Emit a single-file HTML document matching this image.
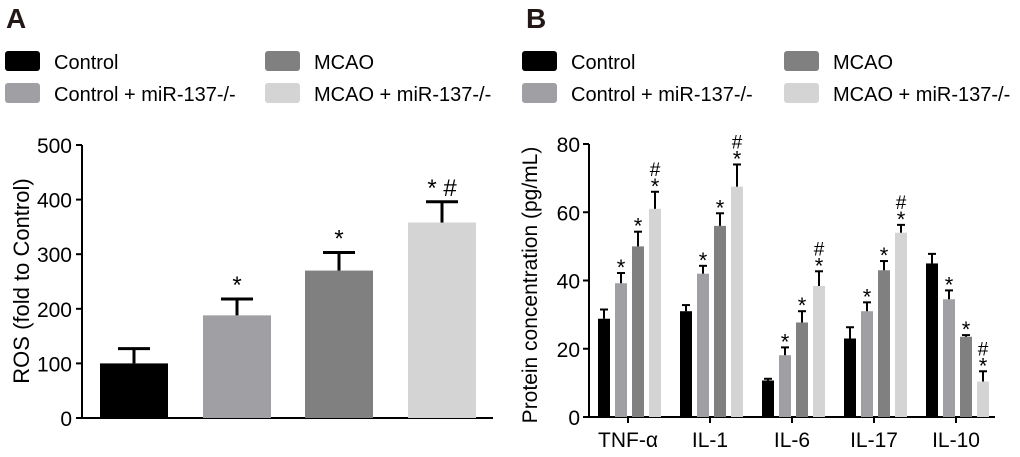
<!DOCTYPE html>
<html><head><meta charset="utf-8"><style>
body{margin:0;background:#fff;width:1020px;height:452px;overflow:hidden;font-family:"Liberation Sans",Arial,sans-serif}
svg text{font-family:"Liberation Sans",Arial,sans-serif}
</style></head><body>
<svg id="fig" width="1020" height="452" viewBox="0 0 1020 452" xmlns="http://www.w3.org/2000/svg">
<text x="6" y="28" font-size="28" font-weight="bold" fill="#231815">A</text>
<text x="526" y="28" font-size="28" font-weight="bold" fill="#231815">B</text>
<g id="legA"></g>
<g id="legB"></g>
<g id="chartA"></g>
<g id="chartB"></g>
</svg>
<script>
const groupNames = ["Control","Control + miR-137-/-","MCAO","MCAO + miR-137-/-"];
const colors = ["#000000","#a0a0a4","#808080","#d4d4d4"];
const rosValues = [100,188,270,358];
const rosErrors = [27,30,33,38];
const rosMarks = ["","*","*","* #"];
const rosTicks = [0,100,200,300,400,500];
const cytokines = ["TNF-α","IL-1","IL-6","IL-17","IL-10"];
const controlVals = [28.8,31,10.7,23,45];
const controlErr = [2.7,1.8,0.5,3.3,2.8];
const controlMiVals = [39.2,42,18.1,31,34.5];
const controlMiErr = [3,2.3,2.3,2.6,2.6];
const mcaoVals = [50,56,27.7,43,23.5];
const mcaoErr = [4.3,3.7,3.3,2.7,0.5];
const mcaoMiVals = [61,67.5,38.4,54,10.4];
const mcaoMiErr = [5,6.5,4.3,2.3,3];
const proteinTicks = [0,20,40,60,80];

const NS="http://www.w3.org/2000/svg";
function mk(parent,tag,attrs,txt){const e=document.createElementNS(NS,tag);for(const k in attrs)e.setAttribute(k,attrs[k]);if(txt!==undefined)e.textContent=txt;parent.appendChild(e);return e;}

function legend(g,x0,x1){
  const placement=[[x0,51],[x0,83],[x1,51],[x1,83]];
  for(let i=0;i<4;i++){
    const p=placement[i];
    const r=mk(g,'rect',{x:p[0],y:p[1],width:35,height:20,rx:3,fill:colors[i]});
    
    
    const t=mk(g,'text',{x:p[0]+49,y:p[1]+18,'font-size':20,fill:'#000'},groupNames[i]);
    
    
  }
}
legend(document.getElementById('legA'),5,265);
legend(document.getElementById('legB'),522,784);

// Chart A
(function(){
  const g=document.getElementById('chartA');
  const axX=82, y0=418, yTop=145, max=500;
  const y=v=>y0-(v/max)*(y0-yTop);
  const barX=[100,203,305,408], bw=68;
  mk(g,'line',{x1:axX,y1:yTop,x2:axX,y2:y0,stroke:'#000','stroke-width':2});
  mk(g,'line',{x1:76,y1:y0,x2:493,y2:y0,stroke:'#000','stroke-width':2});
  rosTicks.forEach(t=>{
    mk(g,'line',{x1:76,y1:y(t),x2:axX,y2:y(t),stroke:'#000','stroke-width':2});
    const tx=mk(g,'text',{x:72,y:y(t)+8,'font-size':21,'text-anchor':'end'},t);
    
    
  });
  const yt=mk(g,'text',{x:0,y:0,'font-size':22,'text-anchor':'middle',transform:'translate(29,281) rotate(-90)'},'ROS (fold to Control)');
  
  
  rosValues.forEach((v,i)=>{
    const cx=barX[i]+bw/2, top=y(v+rosErrors[i]);
    const b=mk(g,'rect',{x:barX[i],y:y(v),width:bw,height:y0-y(v),fill:colors[i]});
    
    
    mk(g,'line',{x1:cx,y1:y(v),x2:cx,y2:top,stroke:'#000','stroke-width':3});
    mk(g,'line',{x1:cx-16,y1:top,x2:cx+16,y2:top,stroke:'#000','stroke-width':3});
    if(rosMarks[i]){const m=mk(g,'text',{x:cx,y:top-6,'font-size':24,'text-anchor':'middle'},rosMarks[i]);
      
      }
  });
})();

// Chart B
(function(){
  const g=document.getElementById('chartB');
  const axX=589, y0=417, yTop=144, max=80;
  const y=v=>y0-(v/max)*(y0-yTop);
  const series=[[controlVals,controlErr],[controlMiVals,controlMiErr],[mcaoVals,mcaoErr],[mcaoMiVals,mcaoMiErr]];
  const marks=[[],["*","*","*","*","*"],["*","*","*","*","*"],["#*","#*","#*","#*","#*"]];
  mk(g,'line',{x1:axX,y1:yTop,x2:axX,y2:y0,stroke:'#000','stroke-width':2});
  mk(g,'line',{x1:583,y1:y0,x2:995,y2:y0,stroke:'#000','stroke-width':2});
  proteinTicks.forEach(t=>{
    mk(g,'line',{x1:583,y1:y(t),x2:axX,y2:y(t),stroke:'#000','stroke-width':2});
    const tx=mk(g,'text',{x:580,y:y(t)+8,'font-size':21,'text-anchor':'end'},t);
    
    
  });
  const yt=mk(g,'text',{x:0,y:0,'font-size':21,'text-anchor':'middle',transform:'translate(537,285) rotate(-90)'},'Protein concentration (pg/mL)');
  
  
  cytokines.forEach((c,j)=>{
    const tc=628+82*j;
    mk(g,'line',{x1:tc,y1:y0,x2:tc,y2:y0+6,stroke:'#000','stroke-width':2});
    const lab=mk(g,'text',{x:tc,y:447,'font-size':21,'text-anchor':'middle'},c);
    
    
    series.forEach((s,i)=>{
      const v=s[0][j], e=s[1][j];
      const bx=598+17*i+82*j, bw=12, cx=bx+bw/2, top=y(v+e);
      const b=mk(g,'rect',{x:bx,y:y(v),width:bw,height:y0-y(v),fill:colors[i]});
      
      
      mk(g,'line',{x1:cx,y1:y(v),x2:cx,y2:top,stroke:'#000','stroke-width':2});
      mk(g,'line',{x1:cx-4,y1:top,x2:cx+4,y2:top,stroke:'#000','stroke-width':2});
      const mm=marks[i][j];
      if(mm){const m=mk(g,'text',{x:cx,y:top+2,'font-size':22,'text-anchor':'middle'},'*');
        
        }
      if(mm==="#*"){
        const h=mk(g,'text',{x:cx,y:top-16,'font-size':19,'text-anchor':'middle'},'#');
        
        }
    });
  });
})();
</script>
</body></html>
